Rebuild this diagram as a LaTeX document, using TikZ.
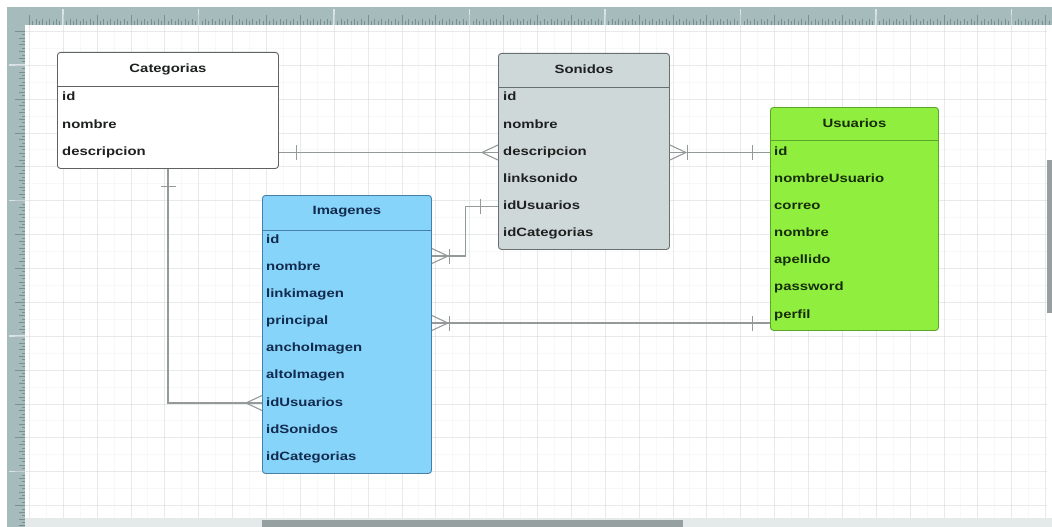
\documentclass[tikz,border=0pt]{standalone}
\usepackage{fontspec}
\newfontfamily\tabfont{Liberation Sans}[FakeStretch=1.24]
\definecolor{rulerbg}{RGB}{166,188,188}
\definecolor{rulertick}{RGB}{122,144,144}
\definecolor{gridc}{RGB}{205,210,210}
\definecolor{connc}{RGB}{148,154,154}
\definecolor{catborder}{RGB}{95,98,98}
\definecolor{sonfill}{RGB}{207,216,216}
\definecolor{sonborder}{RGB}{105,112,112}
\definecolor{usrfill}{RGB}{143,238,62}
\definecolor{usrborder}{RGB}{92,165,45}
\definecolor{usrtext}{RGB}{22,45,12}
\definecolor{imgfill}{RGB}{135,212,250}
\definecolor{imgborder}{RGB}{70,128,168}
\definecolor{imgtext}{RGB}{18,42,78}
\definecolor{darktext}{RGB}{30,32,32}
\definecolor{scrollthumb}{RGB}{150,160,160}
\definecolor{scrolltrack}{RGB}{228,233,233}
\tikzset{
  tbl/.style={rectangle, rounded corners=3pt, line width=0.9pt, anchor=north west,
    inner sep=0pt},
  hdr/.style={inner sep=0pt, font=\tabfont\bfseries\fontsize{12}{14}\selectfont},
  rowtxt/.style={anchor=west, inner sep=0pt, text height=8.5pt, text depth=2.5pt,
    font=\tabfont\bfseries\fontsize{12}{14}\selectfont},
  conn/.style={draw=connc, line width=1.1pt},
  crowfoot/.pic={\draw[conn] (0,-7.5) -- (16,0) -- (0,7.5);},
  onebar/.pic={\draw[conn] (17.5,-7.5) -- (17.5,7.5);}
}
\begin{document}
\begin{tikzpicture}[x=1pt,y=-1pt]
\useasboundingbox (0,0) rectangle (1052,527);
\fill[white] (0,0) rectangle (1052,527);

% drawing canvas with its grid
\begin{scope}
  \clip (25,25) rectangle (1047,518);
  \foreach \i in {-4,...,62} {
    \draw[gridc, opacity=0.15, line width=0.4pt] ({46.0625+16.9375*\i},25) -- ++(0,493);
    \draw[gridc, opacity=0.15, line width=0.4pt] (25,{48.0625+16.9375*\i}) -- ++(1022,0);
  }
  \foreach \i in {-2,...,31} {
    \draw[gridc, opacity=0.35, line width=0.5pt] ({63+33.875*\i},25) -- ++(0,493);
    \draw[gridc, opacity=0.35, line width=0.5pt] (25,{65+33.875*\i}) -- ++(1022,0);
  }
\end{scope}

% scroll bars
\fill[scrolltrack] (25,518) rectangle (1052,527);
\fill[scrollthumb] (262,520) rectangle (683,527);
\fill[scrollthumb] (1047,160) rectangle (1052,313);

% rulers
\fill[rulerbg] (7,7) rectangle (1052,25);
\fill[rulerbg] (7,7) rectangle (25,527);
\foreach \i in {-16,...,292} {
  \pgfmathsetmacro{\tx}{63+3.3875*\i}
  \pgfmathsetmacro{\tl}{ifthenelse(mod(\i+160,10)==0,10,ifthenelse(mod(\i+160,2)==0,6,3.5))}
  \ifdim\tx pt>26pt \draw[rulertick, line width=0.45pt] (\tx,25) -- ++(0,-\tl); \fi
}
\foreach \i in {-10,...,136} {
  \pgfmathsetmacro{\ty}{65+3.3875*\i}
  \pgfmathsetmacro{\tl}{ifthenelse(mod(\i+160,10)==0,10,ifthenelse(mod(\i+160,2)==0,6,3.5))}
  \ifdim\ty pt>26pt \draw[rulertick, line width=0.45pt] (25,\ty) -- ++(-\tl,0); \fi
}
\foreach \i in {0,...,7} {
  \draw[white, opacity=0.6, line width=1.6pt] ({63+135.5*\i},9) -- ++(0,16);
}
\foreach \i in {0,...,3} {
  \draw[white, opacity=0.6, line width=1.6pt] (9,{65+135.5*\i}) -- ++(16,0);
}

% Categorias
\node[tbl, draw=catborder, fill=white, minimum width=221pt, minimum height=116pt]
  (cat) at (57,52) {};
\draw[catborder, line width=0.9pt] (cat.west |- 0,86) -- (cat.east |- 0,86);
\node[hdr, text=darktext] (cat-t) at (cat.north |- 0,69) {Categorias};
\node[rowtxt, text=darktext] (cat-1) at (62,97.5) {id};
\node[rowtxt, text=darktext] (cat-2) at (62,125) {nombre};
\node[rowtxt, text=darktext] (cat-3) at (62,152.5) {descripcion};

% Sonidos
\node[tbl, draw=sonborder, fill=sonfill, minimum width=171pt, minimum height=196pt]
  (son) at (498,53) {};
\draw[sonborder, line width=0.9pt] (son.west |- 0,87) -- (son.east |- 0,87);
\node[hdr, text=darktext] (son-t) at (son.north |- 0,69) {Sonidos};
\node[rowtxt, text=darktext] (son-1) at (503,97.5) {id};
\node[rowtxt, text=darktext] (son-2) at (503,125) {nombre};
\node[rowtxt, text=darktext] (son-3) at (503,152.5) {descripcion};
\node[rowtxt, text=darktext] (son-4) at (503,179.5) {linksonido};
\node[rowtxt, text=darktext] (son-5) at (503,206.5) {idUsuarios};
\node[rowtxt, text=darktext] (son-6) at (503,233.5) {idCategorias};

% Usuarios
\node[tbl, draw=usrborder, fill=usrfill, minimum width=168pt, minimum height=223pt]
  (usr) at (770,107) {};
\draw[usrborder, line width=0.9pt] (usr.west |- 0,140) -- (usr.east |- 0,140);
\node[hdr, text=usrtext] (usr-t) at (usr.north |- 0,123) {Usuarios};
\node[rowtxt, text=usrtext] (usr-1) at (774,152.5) {id};
\node[rowtxt, text=usrtext] (usr-2) at (774,179.5) {nombreUsuario};
\node[rowtxt, text=usrtext] (usr-3) at (774,206.5) {correo};
\node[rowtxt, text=usrtext] (usr-4) at (774,233.5) {nombre};
\node[rowtxt, text=usrtext] (usr-5) at (774,260.5) {apellido};
\node[rowtxt, text=usrtext] (usr-6) at (774,287.5) {password};
\node[rowtxt, text=usrtext] (usr-7) at (774,315) {perfil};

% Imagenes
\node[tbl, draw=imgborder, fill=imgfill, minimum width=169pt, minimum height=278pt]
  (img) at (262,195) {};
\draw[imgborder, line width=0.9pt] (img.west |- 0,230) -- (img.east |- 0,230);
\node[hdr, text=imgtext] (img-t) at (img.north |- 0,212) {Imagenes};
\node[rowtxt, text=imgtext] (img-1) at (266,240.5) {id};
\node[rowtxt, text=imgtext] (img-2) at (266,267.5) {nombre};
\node[rowtxt, text=imgtext] (img-3) at (266,294.5) {linkimagen};
\node[rowtxt, text=imgtext] (img-4) at (266,321.5) {principal};
\node[rowtxt, text=imgtext] (img-5) at (266,348.5) {anchoImagen};
\node[rowtxt, text=imgtext] (img-6) at (266,375.5) {altoImagen};
\node[rowtxt, text=imgtext] (img-7) at (266,403) {idUsuarios};
\node[rowtxt, text=imgtext] (img-8) at (266,430) {idSonidos};
\node[rowtxt, text=imgtext] (img-9) at (266,457) {idCategorias};

% relationships
\coordinate (j1) at (0,256);
\coordinate (j2) at (168,0);
\coordinate (j3) at (0,323);

% Categorias 1 -- N Sonidos
\draw[conn] (cat-3 -| cat.east) -- (son-3 -| son.west);
\path (cat-3 -| cat.east) pic{onebar};
\path (son-3 -| son.west) pic[rotate=180]{crowfoot};

% Sonidos N -- 1 Usuarios
\draw[conn] (son-3 -| son.east) -- (usr-1 -| usr.west);
\path (son-3 -| son.east) pic{crowfoot} pic{onebar};
\path (usr-1 -| usr.west) pic[rotate=180]{onebar};

% Imagenes N -- 1 Sonidos
\draw[conn] (img.east |- j1) -- ++(34,0) |- (son-5 -| son.west);
\path (img.east |- j1) pic{crowfoot} pic{onebar};
\path (son-5 -| son.west) pic[rotate=180]{onebar};

% Imagenes N -- 1 Usuarios
\draw[conn] (img.east |- j3) -- (usr.west |- j3);
\path (img.east |- j3) pic{crowfoot} pic{onebar};
\path (usr.west |- j3) pic[rotate=180]{onebar};

% Categorias 1 -- N Imagenes
\draw[conn] (cat.south -| j2) |- (img-7 -| img.west);
\path (cat.south -| j2) pic[rotate=-90]{onebar};
\path (img-7 -| img.west) pic[rotate=180]{crowfoot};
\end{tikzpicture}
\end{document}
